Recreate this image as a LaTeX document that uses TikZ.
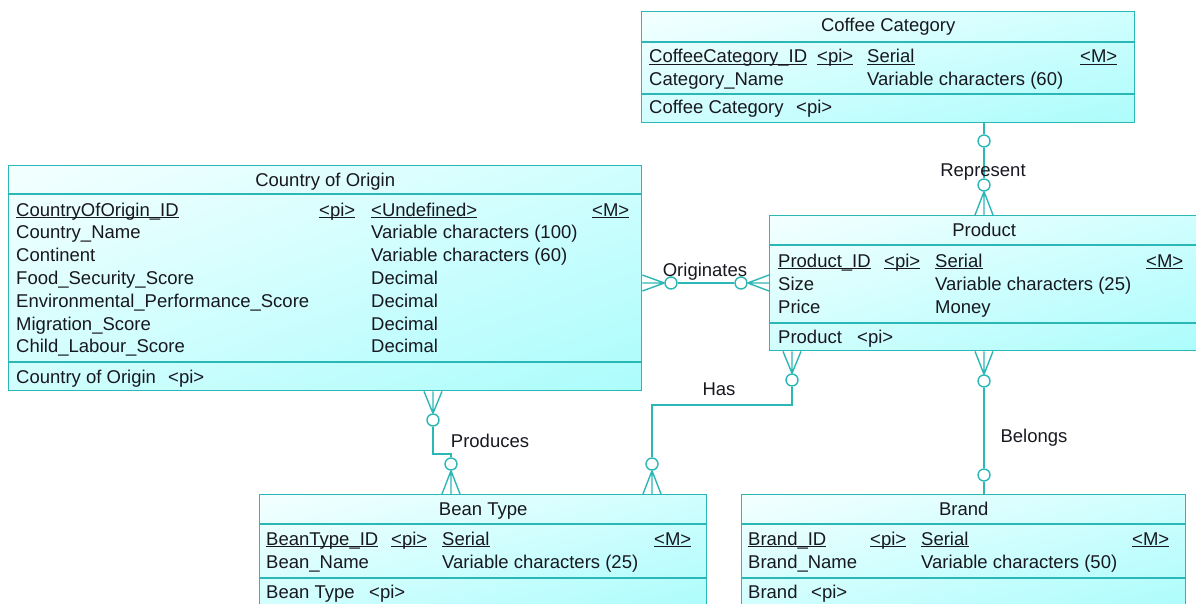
\documentclass[tikz,border=0pt]{standalone}
\usepackage{fontspec}
\setmainfont{Liberation Sans}
\usetikzlibrary{shadings}
\definecolor{erline}{RGB}{44,183,183}
\definecolor{erlight}{RGB}{244,255,255}
\definecolor{ermid}{RGB}{208,254,254}
\definecolor{erdeep}{RGB}{172,252,252}
\definecolor{ink}{RGB}{24,24,32}
\newcommand\keyul[1]{\underline{\smash{#1}}}
\newcommand\crowv[2]{\draw[erl] (#1) -- ([xshift=-9pt]#2) (#1) -- (#2) (#1) -- ([xshift=9pt]#2);}
\newcommand\crowh[2]{\draw[erl] (#1) -- ([yshift=-8pt]#2) (#1) -- (#2) (#1) -- ([yshift=8pt]#2);}
\tikzset{
  entity/.style={rectangle, draw=erline, line width=1.4pt, inner sep=0pt, anchor=north west, shade,
    upper left=erlight, upper right=ermid, lower left=ermid, lower right=erdeep},
  erl/.style={draw=erline, line width=1.4pt},
  zero/.style={circle, draw=erline, fill=white, line width=1.4pt, minimum size=12pt, inner sep=0pt},
  ttl/.style={anchor=base, inner sep=0pt, text=ink},
  fld/.style={anchor=base west, inner sep=0pt, text=ink},
  lbl/.style={anchor=base, inner sep=0pt, text=ink}
}
\begin{document}
\begin{tikzpicture}[x=1pt, y=-1pt, font=\fontsize{18.5}{22}\selectfont]
\useasboundingbox (0,0) rectangle (1196,604);
\clip (0,0) rectangle (1196,604);

% entities
\node[entity, minimum width=493pt, minimum height=111pt] (cat) at (641,11) {};
\foreach \d in {31,83} \draw[erl] ([yshift=-\d pt]cat.north west) -- ([yshift=-\d pt]cat.north east);
\node[ttl] (cat-t) at ([yshift=-21pt]cat.north) {Coffee Category};
\node[fld] (cat-k) at (649,63) {\keyul{CoffeeCategory\_ID}};
\node[fld] (cat-kp) at (817,63) {\keyul{<pi>}};
\node[fld] (cat-kt) at (867,63) {\keyul{Serial}};
\node[fld] (cat-km) at (1080,63) {\keyul{<M>}};
\node[fld] (cat-n) at (649,86) {Category\_Name};
\node[fld] (cat-nt) at (867,86) {Variable characters (60)};
\node[fld] (cat-i) at (649,114) {Coffee Category};
\node[fld] (cat-ip) at (796,114) {<pi>};

\node[entity, minimum width=633pt, minimum height=225pt] (coo) at (8,165) {};
\foreach \d in {29,197} \draw[erl] ([yshift=-\d pt]coo.north west) -- ([yshift=-\d pt]coo.north east);
\node[ttl] (coo-t) at ([yshift=-21pt]coo.north) {Country of Origin};
\node[fld] (coo-k) at (16,216) {\keyul{CountryOfOrigin\_ID}};
\node[fld] (coo-kp) at (319,216) {\keyul{<pi>}};
\node[fld] (coo-kt) at (371,216) {\keyul{<Undefined>}};
\node[fld] (coo-km) at (592,216) {\keyul{<M>}};
\foreach \n/\t [count=\i] in {Country\_Name/Variable characters (100), Continent/Variable characters (60),
    Food\_Security\_Score/Decimal, Environmental\_Performance\_Score/Decimal,
    Migration\_Score/Decimal, Child\_Labour\_Score/Decimal} {
  \node[fld] (coo-n\i) at (16,216+22.8*\i) {\n};
  \node[fld] (coo-t\i) at (371,216+22.8*\i) {\t};
}
\node[fld] (coo-i) at (16,383) {Country of Origin};
\node[fld] (coo-ip) at (168,383) {<pi>};

\node[entity, minimum width=429pt, minimum height=135pt] (prod) at (769,215) {};
\foreach \d in {30,108} \draw[erl] ([yshift=-\d pt]prod.north west) -- ([yshift=-\d pt]prod.north east);
\node[ttl] (prod-t) at ([yshift=-21pt]prod.north) {Product};
\node[fld] (prod-k) at (778,267) {\keyul{Product\_ID}};
\node[fld] (prod-kp) at (884,267) {\keyul{<pi>}};
\node[fld] (prod-kt) at (935,267) {\keyul{Serial}};
\node[fld] (prod-km) at (1146,267) {\keyul{<M>}};
\node[fld] (prod-n1) at (778,290) {Size};
\node[fld] (prod-t1) at (935,290) {Variable characters (25)};
\node[fld] (prod-n2) at (778,313) {Price};
\node[fld] (prod-t2) at (935,313) {Money};
\node[fld] (prod-i) at (778,343) {Product};
\node[fld] (prod-ip) at (857,343) {<pi>};

\node[entity, minimum width=447pt, minimum height=116pt] (bean) at (259,494) {};
\foreach \d in {30,84} \draw[erl] ([yshift=-\d pt]bean.north west) -- ([yshift=-\d pt]bean.north east);
\node[ttl] (bean-t) at ([yshift=-21pt]bean.north) {Bean Type};
\node[fld] (bean-k) at (266,545) {\keyul{BeanType\_ID}};
\node[fld] (bean-kp) at (391,545) {\keyul{<pi>}};
\node[fld] (bean-kt) at (442,545) {\keyul{Serial}};
\node[fld] (bean-km) at (654,545) {\keyul{<M>}};
\node[fld] (bean-n) at (266,568) {Bean\_Name};
\node[fld] (bean-nt) at (442,568) {Variable characters (25)};
\node[fld] (bean-i) at (266,598) {Bean Type};
\node[fld] (bean-ip) at (369,598) {<pi>};

\node[entity, minimum width=444pt, minimum height=116pt] (brand) at (741,494) {};
\foreach \d in {30,84} \draw[erl] ([yshift=-\d pt]brand.north west) -- ([yshift=-\d pt]brand.north east);
\node[ttl] (brand-t) at ([yshift=-21pt]brand.north) {Brand};
\node[fld] (brand-k) at (748,545) {\keyul{Brand\_ID}};
\node[fld] (brand-kp) at (870,545) {\keyul{<pi>}};
\node[fld] (brand-kt) at (921,545) {\keyul{Serial}};
\node[fld] (brand-km) at (1132,545) {\keyul{<M>}};
\node[fld] (brand-n) at (748,568) {Brand\_Name};
\node[fld] (brand-nt) at (921,568) {Variable characters (50)};
\node[fld] (brand-i) at (748,598) {Brand};
\node[fld] (brand-ip) at (811,598) {<pi>};

% relationships
\node[zero] (rep-a) at (984,141) {};
\node[zero] (rep-b) at (984,185) {};
\coordinate (rep-f) at (prod.north -| rep-b);
\draw[erl] (cat.south -| rep-a) -- (rep-a);
\draw[erl] (rep-a) -- (rep-b);
\crowv{rep-b.south}{rep-f}
\node[lbl] (rep-l) at (983,177) {Represent};

\node[zero] (ori-a) at (671,283) {};
\node[zero] (ori-b) at (741,283) {};
\coordinate (ori-f1) at (coo.east |- ori-a);
\coordinate (ori-f2) at (prod.west |- ori-b);
\crowh{ori-a.west}{ori-f1}
\draw[erl] (ori-a) -- (ori-b);
\crowh{ori-b.east}{ori-f2}
\node[lbl] (ori-l) at (705,276) {Originates};

\node[zero] (pro-a) at (433,420) {};
\node[zero] (pro-b) at (451,464) {};
\coordinate (pro-f1) at (coo.south -| pro-a);
\coordinate (pro-f2) at (bean.north -| pro-b);
\crowv{pro-a.north}{pro-f1}
\draw[erl] (pro-a) -- ++(0,34) -| (pro-b);
\crowv{pro-b.south}{pro-f2}
\node[lbl] (pro-l) at (490,447) {Produces};

\node[zero] (has-a) at (792,380) {};
\node[zero] (has-b) at (652,464) {};
\coordinate (has-f1) at (prod.south -| has-a);
\coordinate (has-f2) at (bean.north -| has-b);
\crowv{has-a.north}{has-f1}
\draw[erl] (has-a) -- ++(0,25) -| (has-b);
\crowv{has-b.south}{has-f2}
\node[lbl] (has-l) at (719,395) {Has};

\node[zero] (bel-a) at (984,381) {};
\node[zero] (bel-b) at (984,475) {};
\coordinate (bel-f) at (prod.south -| bel-a);
\crowv{bel-a.north}{bel-f}
\draw[erl] (bel-a) -- (bel-b);
\draw[erl] (bel-b) -- (brand.north -| bel-b);
\node[lbl] (bel-l) at (1034,442) {Belongs};
\end{tikzpicture}
\end{document}
